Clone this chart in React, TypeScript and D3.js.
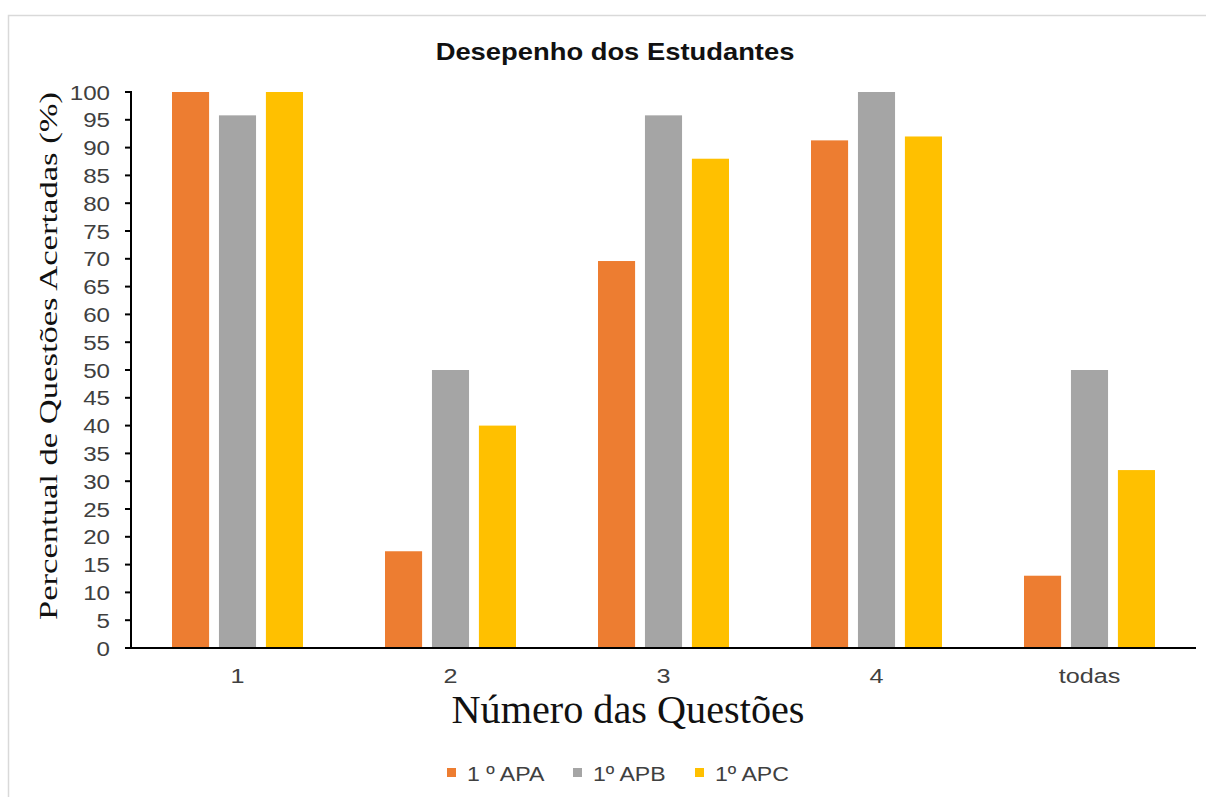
import React from "react";
import * as d3 from "d3";

const categories = ["1", "2", "3", "4", "todas"];
const seriesNames = ["1 º APA", "1º APB", "1º APC"];
const apa = [100, 17.4, 69.6, 91.3, 13];
const apb = [95.8, 50, 95.8, 100, 50];
const apc = [100, 40, 88, 92, 32];
const colors = ["#ED7D31", "#A5A5A5", "#FFC000"];
const yTicks = d3.range(0, 101, 5);

const W = 1206;
const H = 797;
const left = 131;
const right = 1196;
const top = 92;
const bottom = 648;

const sans = "Liberation Sans, Arial";
const serif = "Liberation Serif, Times New Roman";

export default function App() {
  const series = [apa, apb, apc];
  const x = d3.scaleBand<string>().domain(categories).range([left, right]).paddingInner(0.385).paddingOuter(0.1925);
  const xi = d3.scaleBand<number>().domain([0, 1, 2]).range([0, x.bandwidth()]).paddingInner(0.21).paddingOuter(0);
  const y = d3.scaleLinear().domain([0, 100]).range([bottom, top]);
  const legendX = [447, 573, 695];
  return (
    <svg width={W} height={H} style={{ position: "absolute", left: 0, top: 0, background: "#fff" }}>
      <rect x={8.5} y={15.5} width={1300} height={900} fill="#fff" stroke="#d9d9d9" strokeWidth={1.5} />
      <g transform="translate(615,60) scale(1.19,1)">
        <text x={0} y={0} textAnchor="middle" fontFamily={sans} fontWeight="bold" fontSize={23} fill="#111">
          Desepenho dos Estudantes
        </text>
      </g>
      {categories.map((c, ci) =>
        series.map((s, si) => (
          <rect key={c + si} x={(x(c) as number) + (xi(si) as number)} y={y(s[ci])} width={xi.bandwidth()} height={bottom - y(s[ci])} fill={colors[si]} />
        ))
      )}
      <line x1={left} x2={left} y1={top - 1} y2={bottom + 1} stroke="#000" strokeWidth={2} />
      {yTicks.map((t) => (
        <g key={t}>
          <line x1={left - 6} x2={left} y1={y(t)} y2={y(t)} stroke="#000" strokeWidth={2} />
          <g transform={`translate(110,${y(t)}) scale(1.15,1)`}>
            <text x={0} y={0} dy="0.36em" textAnchor="end" fontFamily={sans} fontSize={21} fill="#404040">
              {t}
            </text>
          </g>
        </g>
      ))}
      <line x1={left} x2={right} y1={bottom} y2={bottom} stroke="#000" strokeWidth={2} />
      {categories.map((c) => (
        <g key={c} transform={`translate(${(x(c) as number) + x.bandwidth() / 2},683) scale(1.2,1)`}>
          <text x={0} y={0} textAnchor="middle" fontFamily={sans} fontSize={21} fill="#404040">
            {c}
          </text>
        </g>
      ))}
      <text x={628} y={723} textAnchor="middle" fontFamily={serif} fontSize={39} textLength={353} lengthAdjust="spacingAndGlyphs" fill="#111">
        Número das Questões
      </text>
      <text transform={`translate(57,356) rotate(-90)`} textAnchor="middle" fontFamily={serif} fontSize={25} textLength={528} lengthAdjust="spacingAndGlyphs" fill="#111">
        Percentual de Questões Acertadas (%)
      </text>
      {seriesNames.map((n, i) => (
        <g key={n}>
          <rect x={legendX[i]} y={768} width={9} height={9} fill={colors[i]} />
          <g transform={`translate(${legendX[i] + 20},781) scale(1.1,1)`}>
            <text x={0} y={0} fontFamily={sans} fontSize={21} fill="#404040">
              {n}
            </text>
          </g>
        </g>
      ))}
    </svg>
  );
}
